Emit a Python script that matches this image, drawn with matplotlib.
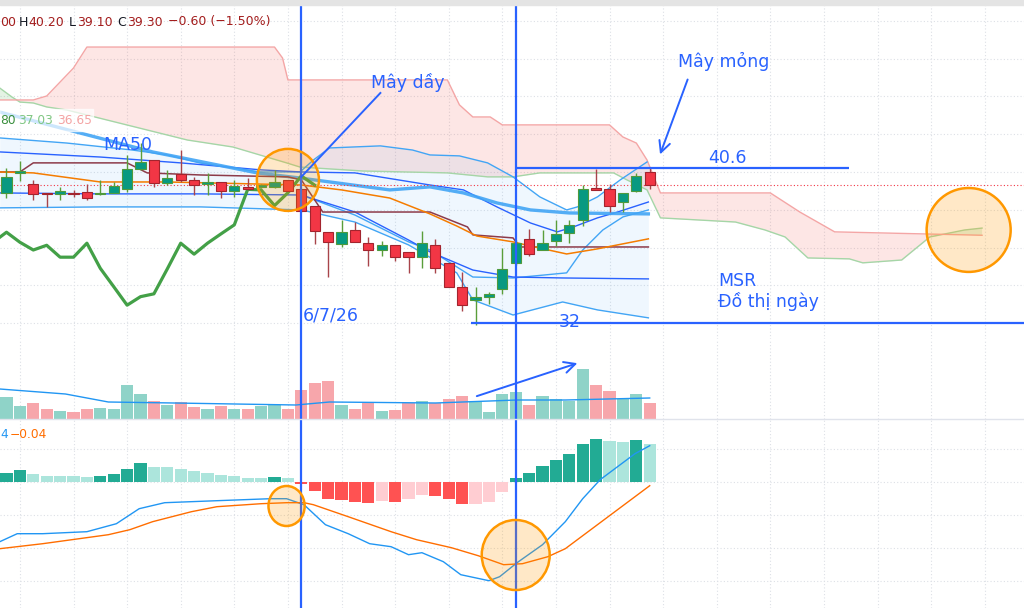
import numpy as np
import matplotlib.pyplot as plt
from matplotlib.patches import Ellipse, Rectangle
from matplotlib.lines import Line2D

# daily candles, bar index 0..48
opens = [38.90, 39.95, 39.37, 38.90, 38.82, 38.90, 38.96, 38.82, 38.90, 39.08,
         40.14, 40.63, 39.40, 39.90, 39.58, 39.38, 39.49, 39.01, 39.19, 39.20,
         39.22, 39.58, 39.08, 38.20, 36.81, 36.17, 36.93, 36.23, 35.87, 36.14,
         35.75, 35.49, 36.14, 35.20, 33.93, 33.23, 33.40, 33.80, 35.20, 36.44,
         35.87, 36.35, 36.76, 37.46, 39.17, 39.08, 38.40, 39.01, 40.00]
highs = [40.20, 40.60, 39.60, 38.90, 39.22, 39.05, 39.37, 39.58, 39.48, 40.90,
         41.53, 40.63, 40.10, 41.16, 39.75, 39.95, 39.49, 39.58, 39.68, 39.35,
         40.10, 39.58, 39.10, 38.20, 36.81, 37.46, 37.37, 36.58, 36.35, 36.14,
         35.75, 36.88, 36.45, 35.20, 34.70, 33.93, 33.67, 35.96, 36.40, 36.97,
         36.93, 37.46, 37.46, 39.31, 40.14, 39.35, 38.90, 39.93, 40.20]
lows = [38.60, 39.50, 38.50, 38.15, 38.52, 38.65, 38.52, 38.80, 38.87, 38.96,
        40.10, 39.20, 39.30, 39.49, 38.78, 38.78, 38.60, 38.70, 39.05, 39.15,
        39.15, 39.00, 37.90, 36.20, 34.46, 36.02, 36.28, 35.03, 35.57, 35.31,
        34.66, 34.90, 34.64, 33.93, 32.66, 31.90, 33.00, 33.55, 35.10, 35.57,
        35.87, 36.08, 36.26, 37.14, 39.05, 37.90, 37.90, 38.96, 39.10]
closes = [39.75, 40.00, 38.82, 38.82, 38.98, 38.82, 38.60, 38.90, 39.28, 40.14,
          40.53, 39.42, 39.66, 39.58, 39.31, 39.42, 39.01, 39.28, 39.08, 39.31,
          39.49, 39.01, 37.94, 36.88, 36.28, 36.81, 36.28, 35.87, 36.12, 35.49,
          35.49, 36.23, 34.90, 33.93, 32.95, 33.40, 33.55, 34.87, 36.23, 35.65,
          36.23, 36.72, 37.20, 39.08, 39.05, 38.22, 38.90, 39.79, 39.30]
volumes = [670, 380, 480, 310, 240, 200, 310, 330, 310, 1010,
           740, 540, 410, 510, 360, 310, 390, 290, 310, 390,
           410, 290, 870, 1090, 1140, 410, 310, 470, 250, 270,
           470, 540, 480, 600, 690, 510, 220, 760, 810, 410,
           690, 590, 540, 1500, 1030, 850, 610, 740, 470]
macd_hist = [0.083, 0.117, 0.077, 0.060, 0.060, 0.053, 0.047, 0.057, 0.077, 0.127,
             0.183, 0.150, 0.143, 0.127, 0.107, 0.083, 0.063, 0.057, 0.040, 0.039,
             0.050, 0.033, -0.023, -0.093, -0.177, -0.180, -0.200, -0.217, -0.193, -0.200,
             -0.177, -0.133, -0.140, -0.177, -0.227, -0.223, -0.200, -0.100, 0.033, 0.090,
             0.157, 0.217, 0.273, 0.373, 0.427, 0.410, 0.400, 0.417, 0.377]

# indicator lines read as (bar index, value) breakpoints
ma50_x = [-0.5, 10.9, 18.7, 21.9, 28.6, 31.6, 34.1, 36.6, 39.1, 42.0, 47.9]
ma50_y = [43.17, 41.06, 39.95, 39.68, 39.05, 39.21, 38.89, 38.36, 37.99, 37.83, 37.78]
bb_up_x = [-0.5, 4.5, 9.4, 12, 14.4, 18.9, 21.9, 22.9, 24.1, 27.9, 30.3, 31.6,
           33.8, 35.9, 37.8, 39.8, 41.8, 42.6, 44.1, 45.8, 47.8]
bb_up_y = [41.80, 41.53, 41.16, 40.90, 40.48, 40.00, 40.00, 40.63, 41.27, 41.38,
           41.16, 40.90, 40.85, 40.48, 39.74, 38.68, 37.99, 38.15, 38.68, 39.58, 40.53]
bb_lo_x = [-0.5, 7, 14.5, 22, 26, 30, 33.6, 34.8, 37.8, 41.5, 44.1, 47.9]
bb_lo_y = [38.10, 38.15, 38.15, 37.99, 37.35, 36.14, 34.66, 33.23, 32.43, 33.12, 32.70, 32.28]
kc_up_x = [-0.5, 7, 13, 19, 22, 26, 31.6, 34.1, 36.6, 39.1, 41.1, 42.3, 44.1, 45.6, 47.9]
kc_up_y = [41.06, 40.79, 40.48, 40.11, 40.00, 39.95, 39.31, 39.05, 38.15, 37.30,
           36.83, 37.09, 37.57, 37.88, 38.41]
kc_lo_x = [-0.5, 7, 14.5, 22, 26, 30, 31.6, 34.8, 37.8, 41.5, 47.9]
kc_lo_y = [38.89, 38.84, 38.84, 38.78, 37.88, 36.40, 35.77, 34.81, 34.44, 34.39, 34.34]
bb_in_x = [22, 26, 30, 31.6, 34.8, 37.8, 41.8, 43.0, 44.5, 46.0, 47.9]
bb_in_y = [38.78, 37.72, 36.30, 35.87, 34.44, 34.39, 34.66, 35.87, 36.93, 37.62, 37.99]
kijun_x = [-0.5, 1, 2, 9, 10.5, 14.5, 21, 22, 23.6, 31.6, 34.4, 34.8, 37.8, 38.3, 47.9]
kijun_y = [40.00, 40.00, 40.48, 40.48, 39.95, 39.84, 39.74, 39.58, 37.88, 37.88,
           37.09, 36.67, 36.51, 36.03, 36.03]
ma20_x = [-0.5, 2, 7, 12, 22, 25, 28.6, 31.6, 33.6, 35.1, 37.8, 39.1, 41.8, 44.1, 47.9]
ma20_y = [40.00, 39.95, 39.47, 39.47, 39.31, 39.05, 38.62, 37.78, 37.14, 36.61,
          36.30, 36.08, 35.66, 35.93, 36.46]
span_a_x = [-0.5, 0.4, 1.0, 2.0, 3.0, 4.5, 13.5, 16.9, 20.9, 21.9, 26.6, 32.9, 35.9,
            37.8, 39.8, 45.3, 46.3, 47.8, 48.8, 54.4, 56.6, 58.1, 59.8, 62.9, 63.9,
            66.8, 68.9, 71.5, 72.8]
span_a_y = [44.44, 43.97, 43.70, 43.65, 43.44, 43.28, 41.69, 41.32, 40.48, 40.26,
            40.05, 39.95, 39.74, 39.74, 39.95, 39.95, 39.58, 39.05, 37.57, 37.35,
            36.93, 36.56, 35.45, 35.40, 35.19, 35.34, 36.56, 36.93, 37.03]
span_b_x = [-0.5, 2.0, 3.0, 5.0, 6.0, 20.0, 20.6, 21.0, 32.9, 33.8, 34.8, 36.1, 37.0,
            45.0, 46.0, 47.0, 47.8, 48.8, 57.0, 59.2, 61.8, 72.8]
span_b_y = [43.81, 43.81, 44.02, 45.50, 46.61, 46.61, 46.03, 44.87, 44.87, 43.55,
            42.91, 42.91, 42.49, 42.49, 41.85, 41.53, 40.63, 38.89, 38.89, 37.88,
            36.83, 36.65]
vol_ma_x = [-0.5, 4.4, 7.6, 12.5, 21.6, 24.1, 32, 38.1, 41.7, 48]
vol_ma_y = [900, 750, 510, 480, 420, 510, 480, 570, 570, 630]
macd_x = [-0.5, 0.8, 2.7, 6.0, 8.2, 9.9, 11.8, 15.7, 19.7, 20.9, 22.2, 23.8, 25.5,
          27.1, 28.7, 30.0, 31.0, 32.6, 33.9, 36.0, 36.8, 38.1, 40.0, 41.7, 43.0,
          44.3, 45.6, 46.9, 48.0]
macd_y = [-0.60, -0.52, -0.52, -0.50, -0.42, -0.27, -0.21, -0.19, -0.17, -0.17,
          -0.23, -0.43, -0.52, -0.62, -0.65, -0.73, -0.71, -0.80, -0.93, -0.99,
          -0.95, -0.81, -0.63, -0.40, -0.17, 0.02, 0.15, 0.28, 0.36]
signal_x = [-0.5, 2.7, 7.6, 9.2, 10.9, 13.8, 15.7, 19.0, 20.9, 22.2, 22.9, 25.5,
            28.7, 30.6, 33.2, 35.2, 37.1, 38.5, 40.4, 41.7, 43.6, 45.6, 48.0]
signal_y = [-0.67, -0.62, -0.53, -0.48, -0.40, -0.30, -0.25, -0.22, -0.21, -0.21,
            -0.23, -0.35, -0.50, -0.58, -0.66, -0.74, -0.83, -0.82, -0.75, -0.67,
            -0.48, -0.28, -0.04]

marked_days = [22, 38]
level_hi, level_lo = 40.21, 32.01
BLUE = '#2962ff'
ORANGE = '#ff9800'

idx = np.arange(len(closes))
o, h, l, c = map(np.array, (opens, highs, lows, closes))
up = c >= o

fig = plt.figure(figsize=(10.24, 6.08), dpi=100)
W, H = 1024, 608


def panel(top, bottom):
    ax = fig.add_axes([0, 1 - bottom / H, 1, (bottom - top) / H])
    ax.set_xlim(-0.485, 75.93)
    for s in ax.spines.values():
        s.set_visible(False)
    ax.tick_params(length=0, labelbottom=False, labelleft=False)
    ax.set_xticks(np.arange(1, 76, 4))
    ax.grid(True, color='#dde0e6', ls=(0, (1, 2)), lw=0.8)
    ax.set_axisbelow(True)
    return ax


ax = panel(0, 339)
axv = panel(339, 419)
axm = panel(419, 608)
ax.set_ylim(31.16, 49.10)
ax.set_yticks(np.arange(32, 49, 2))
axv.set_ylim(0, 2400)
axv.set_yticks([])
axm.set_ylim(-1.263, 0.627)
axm.set_yticks([-0.99, -0.66, -0.33, 0, 0.33])

# ichimoku cloud
cx = np.union1d(span_a_x, span_b_x)
sa = np.interp(cx, span_a_x, span_a_y)
sb = np.interp(cx, span_b_x, span_b_y)
ax.fill_between(cx, sa, sb, where=sb >= sa, interpolate=True, color='#f44336', alpha=0.13, lw=0)
ax.fill_between(cx, sa, sb, where=sa > sb, interpolate=True, color='#4caf50', alpha=0.15, lw=0)
ax.plot(span_a_x, span_a_y, color='#a5d6a7', lw=1)
ax.plot(span_b_x, span_b_y, color='#f4a6a6', lw=1)

# bollinger area
bx = np.union1d(bb_up_x, bb_lo_x)
ax.fill_between(bx, np.interp(bx, bb_lo_x, bb_lo_y), np.interp(bx, bb_up_x, bb_up_y),
                color='#2196f3', alpha=0.07, lw=0)
ax.plot(bb_up_x, bb_up_y, color='#42a5f5', lw=1)
ax.plot(bb_lo_x, bb_lo_y, color='#42a5f5', lw=1)
ax.plot(bb_in_x, bb_in_y, color='#42a5f5', lw=1)
ax.plot(kc_up_x, kc_up_y, color='#2962ff', lw=1)
ax.plot(kc_lo_x, kc_lo_y, color='#2962ff', lw=1)
ax.plot(ma50_x, ma50_y, color='#42a5f5', lw=2.4, alpha=0.9)
ax.plot(kijun_x, kijun_y, color='#8d3b4a', lw=1.1)
ax.plot(ma20_x, ma20_y, color='#f57c00', lw=1.1)
# lagging span: closes shifted back 25 bars
ax.plot(idx - 25, closes, color='#43a047', lw=2.3)

ax.axhline(closes[-1], color='#f23645', ls=(0, (1, 2)), lw=0.8)

for i in idx:
    body = '#089981' if up[i] else '#f23645'
    edge = '#4e9a3c' if up[i] else '#a3242e'
    wick = '#5a9e3a' if up[i] else '#a8444a'
    ax.vlines(i, l[i], h[i], color=wick, lw=1, zorder=5)
    ax.bar(i, max(abs(c[i] - o[i]), 0.08), bottom=min(o[i], c[i]), width=0.75,
           color=body, edgecolor=edge, lw=0.8, zorder=6)

# volume
axv.bar(idx, volumes, width=0.92, color=np.where(up, '#8fd3c8', '#f7a6ab'), zorder=2)
axv.plot(vol_ma_x, vol_ma_y, color='#2196f3', lw=1, zorder=3)

# macd
hist = np.array(macd_hist)
prev = np.r_[-1.0, hist[:-1]]
cols = np.where(hist >= 0, np.where(hist > prev, '#22ab94', '#ace5dc'),
                np.where(hist < prev, '#ff5252', '#ffcdd2'))
axm.bar(idx, hist, width=0.92, color=cols, zorder=2)
axm.plot(macd_x, macd_y, color='#2196f3', lw=1, zorder=3)
axm.plot(signal_x, signal_y, color='#ff6d00', lw=1, zorder=3)

# drawings
for a in (ax, axv, axm):
    for d in marked_days:
        a.axvline(d, color=BLUE, lw=1.6, zorder=8)

ax.hlines(level_hi, 38, 62.9, color=BLUE, lw=1.6, zorder=8)
ax.hlines(level_lo, 34.7, 76, color=BLUE, lw=1.6, zorder=8)

ax.add_patch(Ellipse((21.0, 39.58), 4.63, 3.28, facecolor=(1, 0.6, 0, 0.22),
                     edgecolor=ORANGE, lw=1.8, zorder=9))
ax.add_patch(Ellipse((71.8, 36.93), 6.27, 4.44, facecolor=(1, 0.6, 0, 0.22),
                     edgecolor=ORANGE, lw=1.8, zorder=9))
axm.add_patch(Ellipse((20.9, -0.243), 2.7, 0.40, facecolor=(1, 0.6, 0, 0.22),
                      edgecolor=ORANGE, lw=1.8, zorder=9))
axm.add_patch(Ellipse((38.0, -0.733), 5.07, 0.70, facecolor=(1, 0.6, 0, 0.22),
                      edgecolor=ORANGE, lw=1.8, zorder=9))

tk = dict(color=BLUE, fontsize=12.5, zorder=10)
ax.text(9.07, 41.43, 'MA50', ha='center', va='center', **tk)
ax.text(29.96, 44.76, 'Mây dầy', ha='center', va='center', **tk)
ax.plot([27.9, 22.0], [44.18, 39.74], color=BLUE, lw=1.4, zorder=10)
ax.text(53.5, 45.87, 'Mây mỏng', ha='center', va='center', **tk)
ax.annotate('', xy=(48.7, 40.79), xytext=(50.9, 45.03),
            arrowprops=dict(arrowstyle='->,head_length=0.8,head_width=0.4', color=BLUE, lw=1.4),
            zorder=10)
ax.text(53.8, 40.74, '40.6', ha='center', va='center', **tk)
ax.text(42.0, 32.06, '32', ha='center', va='center', **tk)
ax.text(22.1, 32.38, '6/7/26', ha='left', va='center', **tk)
ax.text(53.1, 34.23, 'MSR', ha='left', va='center', **tk)
ax.text(53.1, 33.12, 'Đồ thị ngày', ha='left', va='center', **tk)
axv.annotate('', xy=(42.8, 1700), xytext=(34.9, 660),
             arrowprops=dict(arrowstyle='->,head_length=0.8,head_width=0.4', color=BLUE, lw=1.4),
             zorder=10)

# header strip, legends
fig.patches.append(Rectangle((0, 1 - 5 / H), 1, 5 / H, transform=fig.transFigure,
                             color='#e4e4e4', zorder=20))
fig.add_artist(Line2D([0, 1], [1 - 419 / H] * 2, color='#e0e3eb', lw=1, zorder=5))
fig.patches.append(Rectangle((0, 1 - 131 / H), 93 / W, 22 / H, transform=fig.transFigure,
                             color='white', alpha=0.7, zorder=11))

red_txt = '#a31d1d'
dark_txt = '#131722'
hdr = [(0, '00', red_txt), (19, 'H', dark_txt), (28, '40.20', red_txt),
       (69, 'L', dark_txt), (77, '39.10', red_txt), (117, 'C', dark_txt),
       (127, '39.30', red_txt), (168, '−0.60 (−1.50%)', red_txt)]
for x, s, col in hdr:
    fig.text(x / W, 1 - 22 / H, s, color=col, fontsize=9, va='center', ha='left', zorder=12)
for x, s, col in [(0, '80', '#388e3c'), (18, '37.03', '#81c784'), (57, '36.65', '#f4a3a3')]:
    fig.text(x / W, 1 - 121 / H, s, color=col, fontsize=8.8, va='center', ha='left', zorder=12)
for x, s, col in [(0, '4', '#2196f3'), (10, '−0.04', '#ff6d00')]:
    fig.text(x / W, 1 - 435 / H, s, color=col, fontsize=8.8, va='center', ha='left', zorder=12)

fig.savefig('out.png', dpi=100, facecolor='white')
